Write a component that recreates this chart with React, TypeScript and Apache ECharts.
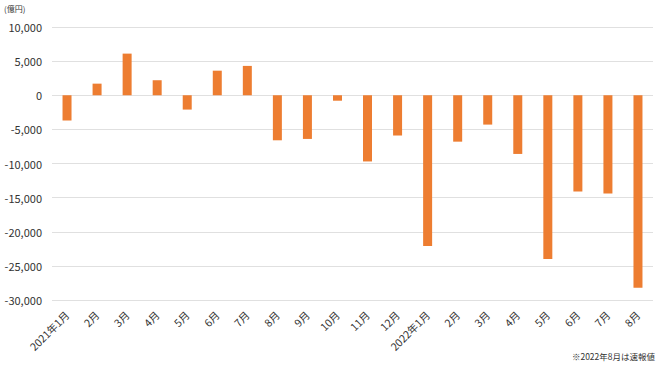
import React, { useEffect, useRef } from "react";
import * as echarts from "echarts";

const categories = [
  "2021年1月", "2月", "3月", "4月", "5月", "6月", "7月", "8月", "9月", "10月",
  "11月", "12月", "2022年1月", "2月", "3月", "4月", "5月", "6月", "7月", "8月",
];
const values = [
  -3700, 1700, 6100, 2200, -2100, 3600, 4300, -6600, -6400, -800,
  -9700, -5900, -22100, -6800, -4300, -8600, -24000, -14100, -14400, -28200,
];
const unitLabel = "(億円)";
const footnote = "※2022年8月は速報値";

const FONT = "'Noto Sans CJK JP', 'Noto Sans', sans-serif";

export default function App() {
  const ref = useRef<HTMLDivElement>(null);
  useEffect(() => {
    if (!ref.current) return;
    const chart = echarts.init(ref.current, null, { renderer: "svg" });
    chart.setOption({
      animation: false,
      backgroundColor: "#ffffff",
      grid: { left: 52, right: 7, top: 27, bottom: 71 },
      xAxis: {
        type: "category",
        data: categories,
        axisLine: { show: false },
        axisTick: { show: false },
        axisLabel: {
          rotate: 45,
          interval: 0,
          color: "#333333",
          fontSize: 10.5,
          fontFamily: FONT,
          margin: 13,
        },
      },
      yAxis: {
        type: "value",
        min: -30000,
        max: 10000,
        interval: 5000,
        axisLine: { show: false },
        axisTick: { show: false },
        splitLine: { lineStyle: { color: "#e0e0e0", width: 1 } },
        axisLabel: {
          color: "#333333",
          fontSize: 11,
          fontFamily: FONT,
          margin: 10,
          formatter: (v: number) => v.toLocaleString("en-US"),
        },
      },
      series: [
        {
          type: "bar",
          data: values,
          barWidth: 9,
          itemStyle: { color: "#ed7d31" },
        },
      ],
      graphic: [
        {
          type: "text",
          left: 4,
          top: 4,
          style: { text: unitLabel, fill: "#333333", font: `8px ${FONT}` },
        },
        {
          type: "text",
          right: 5,
          bottom: 11,
          style: { text: footnote, fill: "#333333", font: `8.5px ${FONT}` },
        },
      ],
    });
    return () => chart.dispose();
  }, []);
  return <div ref={ref} style={{ width: 660, height: 371, position: "absolute", left: 0, top: 0 }} />;
}
